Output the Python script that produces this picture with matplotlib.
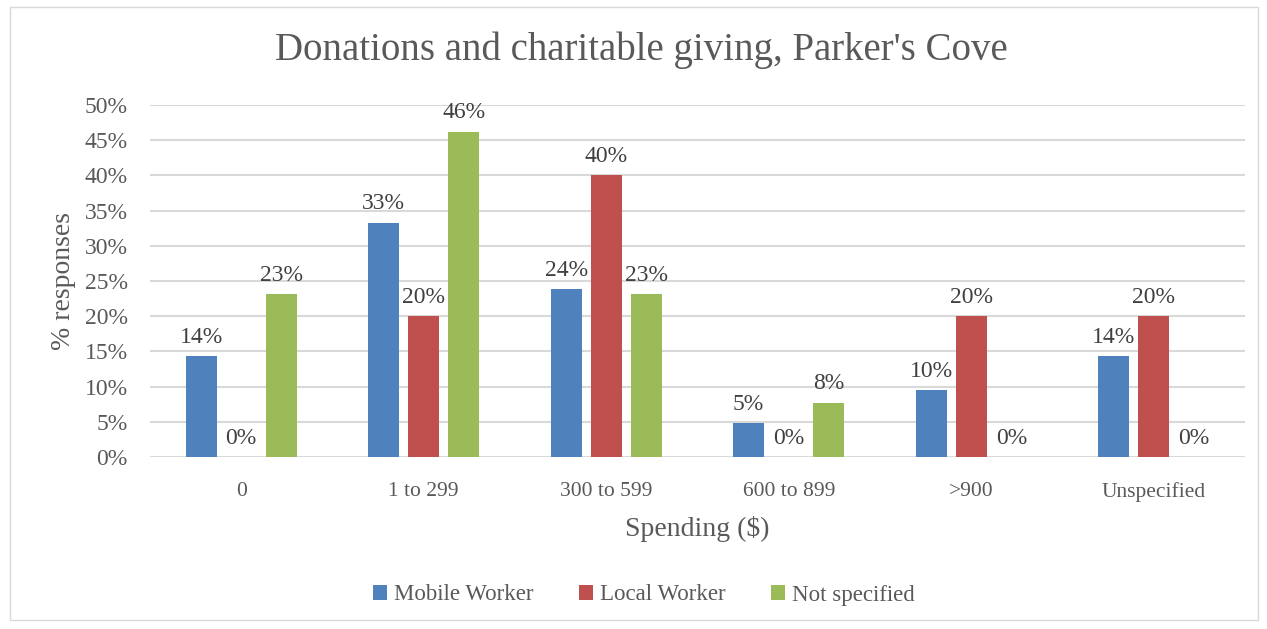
import matplotlib
matplotlib.use("Agg")
import matplotlib.pyplot as plt
import numpy as np
from matplotlib.patches import Rectangle

categories = ["0", "1 to 299", "300 to 599", "600 to 899", ">900", "Unspecified"]
series_names = ["Mobile Worker", "Local Worker", "Not specified"]
mobile = [14.3, 33.3, 23.8, 4.8, 9.5, 14.3]
local = [0, 20, 40, 0, 20, 20]
not_specified = [23.1, 46.2, 23.1, 7.7, 0, 0]
colors = ["#4F81BD", "#C0504D", "#9BBB59"]
yticks = [0, 5, 10, 15, 20, 25, 30, 35, 40, 45, 50]

plt.rcParams['font.family'] = ['Liberation Serif', 'DejaVu Serif']
txt = "#595959"

fig = plt.figure(figsize=(12.67, 6.29), dpi=100)
fig.patches.append(Rectangle((10/1267, 1-620/629), 1248/1267, 613/629, transform=fig.transFigure,
                             fill=False, edgecolor="#D9D9D9", linewidth=1))
ax = fig.add_axes([150/1267, 1-457/629, 1095/1267, 352/629])

x = np.arange(len(categories))
width = 0.17
offs = [-0.22, 0, 0.22]
for vals, name, c, o in zip([mobile, local, not_specified], series_names, colors, offs):
    bars = ax.bar(x + o, vals, width, color=c, label=name, zorder=3)
    for b, v in zip(bars, vals):
        ax.annotate(f"{v:.0f}%", (b.get_x() + b.get_width()/2, v), xytext=(0, 6),
                    textcoords="offset points", ha="center", va="bottom",
                    fontsize=17, color="#404040")

ax.set_xlim(-0.5, len(categories) - 0.5)
ax.set_ylim(0, 50)
ax.set_yticks(yticks)
ax.set_yticklabels([f"{t}%" for t in yticks], fontsize=17, color=txt)
ax.set_xticks(x)
ax.set_xticklabels(categories, fontsize=15.5, color=txt)
ax.tick_params(axis='both', length=0)
ax.tick_params(axis='y', pad=16)
ax.tick_params(axis='x', pad=18)
ax.grid(axis='y', color="#D9D9D9", linewidth=1.5, zorder=0)
for s in ax.spines.values():
    s.set_visible(False)

ax.set_xlabel("Spending ($)", fontsize=20, color=txt, labelpad=10)
ax.set_ylabel("% responses", fontsize=20, color=txt, labelpad=6)
fig.text(641/1267, 1-50/629, "Donations and charitable giving, Parker's Cove", ha="center", va="center",
         fontsize=28, color=txt)

leg = fig.legend(loc="center", bbox_to_anchor=(644/1267, 1-595/629), ncol=3, frameon=False,
                 fontsize=16.5, handlelength=0.6, handleheight=0.6, handletextpad=0.3, columnspacing=2.0)
for t in leg.get_texts():
    t.set_color(txt)
    t.set_verticalalignment("baseline")

fig.savefig("out.png", dpi=100)
